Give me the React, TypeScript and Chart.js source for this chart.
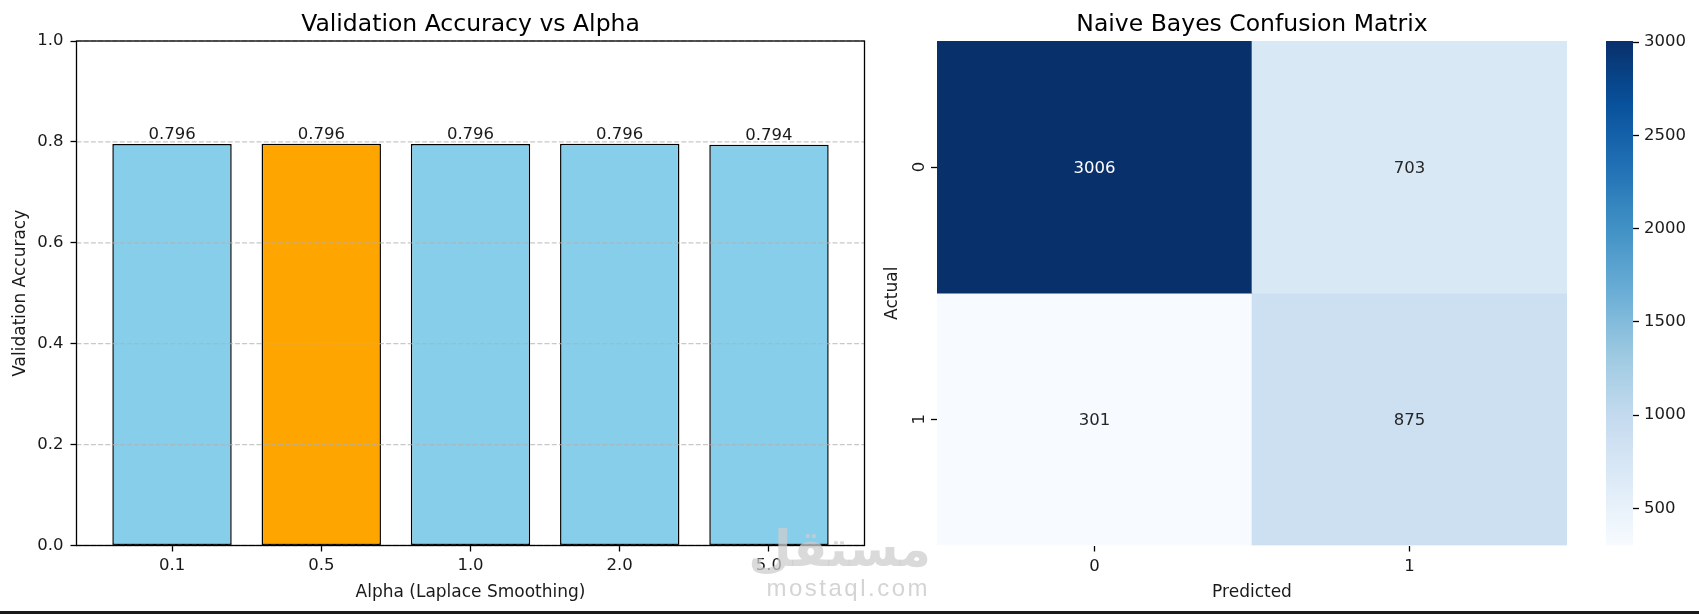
import React, { useEffect, useRef } from 'react';
import { Chart, registerables } from 'chart.js';

Chart.register(...registerables);

const FONT = "'DejaVu Sans', sans-serif";

// ---- Left chart data ----
const alphaLabels = ['0.1', '0.5', '1.0', '2.0', '5.0'];
const accuracies = [0.7956, 0.7963, 0.7957, 0.7962, 0.7944];
const accuracyTicks = [0, 0.2, 0.4, 0.6, 0.8, 1.0];

// ---- Confusion matrix data ----
const predictedLabels = ['0', '1'];
const actualLabels = ['0', '1'];
const confusionActual0 = [3006, 703];
const confusionActual1 = [301, 875];
const colorbarTicks = [500, 1000, 1500, 2000, 2500, 3000];

const confusion = [confusionActual0, confusionActual1];
const allValues = confusion.flat();
const vmin = Math.min(...allValues);
const vmax = Math.max(...allValues);

// matplotlib "Blues" colormap stops
const BLUES = [
  [247, 251, 255], [222, 235, 247], [198, 219, 239], [158, 202, 225], [107, 174, 214],
  [66, 146, 198], [33, 113, 181], [8, 81, 156], [8, 48, 107],
];
function bluesRgb(t: number): number[] {
  const tt = Math.max(0, Math.min(1, t));
  const p = tt * (BLUES.length - 1);
  const i = Math.min(BLUES.length - 2, Math.floor(p));
  const f = p - i;
  return BLUES[i].map((c, k) => Math.round(c + (BLUES[i + 1][k] - c) * f));
}
function bluesCss(t: number): string {
  const [r, g, b] = bluesRgb(t);
  return `rgb(${r},${g},${b})`;
}
function luminance(rgb: number[]): number {
  const lin = rgb.map((c) => {
    const s = c / 255;
    return s <= 0.03928 ? s / 12.92 : Math.pow((s + 0.055) / 1.055, 2.4);
  });
  return 0.2126 * lin[0] + 0.7152 * lin[1] + 0.0722 * lin[2];
}
const norm = (v: number) => (v - vmin) / (vmax - vmin);

const TICK_FONT = { family: FONT, size: 16.5, weight: 'normal' as const };
const LABEL_FONT = { family: FONT, size: 17, weight: 'normal' as const };
const TITLE_FONT = { family: FONT, size: 23.5, weight: 'normal' as const, lineHeight: 1.2 };
const TEXT = '#1a1a1a';

const accuracyOverlay = {
  id: 'accuracyOverlay',
  afterDatasetsDraw(chart: any) {
    const { ctx, chartArea: a, scales } = chart;
    ctx.save();
    // grid above bars (matplotlib default zorder)
    ctx.strokeStyle = 'rgba(176,176,176,0.7)';
    ctx.lineWidth = 1.3;
    ctx.setLineDash([5, 2.2]);
    for (const v of accuracyTicks) {
      const y = scales.y.getPixelForValue(v);
      ctx.beginPath();
      ctx.moveTo(a.left, y);
      ctx.lineTo(a.right, y);
      ctx.stroke();
    }
    ctx.setLineDash([]);
    // value labels
    const meta = chart.getDatasetMeta(0);
    ctx.fillStyle = TEXT;
    ctx.font = `16.5px ${FONT}`;
    ctx.textAlign = 'center';
    ctx.textBaseline = 'alphabetic';
    meta.data.forEach((bar: any, i: number) => {
      ctx.fillText(accuracies[i].toFixed(3), bar.x, bar.y - 5);
    });
    // axes frame
    ctx.strokeStyle = '#000';
    ctx.lineWidth = 1.3;
    ctx.strokeRect(a.left, a.top, a.right - a.left, a.bottom - a.top);
    ctx.restore();
  },
};

function AccuracyChart() {
  const ref = useRef<HTMLCanvasElement>(null);
  useEffect(() => {
    const best = accuracies.indexOf(Math.max(...accuracies));
    const chart = new Chart(ref.current as HTMLCanvasElement, {
      type: 'bar',
      data: {
        datasets: [
          {
            data: accuracies.map((y, i) => ({ x: i, y })),
            backgroundColor: accuracies.map((_, i) => (i === best ? '#ffa500' : '#87ceeb')),
            borderColor: '#000',
            borderWidth: 1.5,
            borderSkipped: false,
            barPercentage: 1,
            categoryPercentage: 0.8,
          } as any,
        ],
      },
      options: {
        responsive: false,
        animation: false,
        devicePixelRatio: 1,
        layout: { padding: { left: 0, right: 15.5, top: 0, bottom: 0 } },
        plugins: {
          legend: { display: false },
          tooltip: { enabled: false },
          title: {
            display: true,
            text: 'Validation Accuracy vs Alpha',
            fullSize: false,
            color: '#000',
            font: TITLE_FONT,
            padding: { top: 10.3, bottom: 2.5 },
          },
        },
        scales: {
          x: {
            type: 'linear',
            min: -0.64,
            max: 4.64,
            offset: false,
            afterFit: (s: any) => { s.height = 68.5; },
            afterBuildTicks: (s: any) => { s.ticks = alphaLabels.map((_, i) => ({ value: i })); },
            ticks: {
              callback: (v: any) => alphaLabels[v] ?? '',
              autoSkip: false,
              maxRotation: 0,
              minRotation: 0,
              padding: 4,
              color: TEXT,
              font: TICK_FONT,
            },
            grid: { drawOnChartArea: false, drawTicks: true, tickLength: 6, tickColor: '#000', tickWidth: 1.3, offset: false },
            border: { display: false },
            title: { display: true, text: 'Alpha (Laplace Smoothing)', color: TEXT, font: LABEL_FONT, padding: { top: 0, bottom: 11.5 } },
          },
          y: {
            type: 'linear',
            min: 0,
            max: 1,
            afterFit: (s: any) => { s.width = 76.5; },
            afterBuildTicks: (s: any) => { s.ticks = accuracyTicks.map((v) => ({ value: v })); },
            ticks: { callback: (v: any) => Number(v).toFixed(1), padding: 7, color: TEXT, font: TICK_FONT },
            grid: { drawOnChartArea: false, drawTicks: true, tickLength: 6, tickColor: '#000', tickWidth: 1.3 },
            border: { display: false },
            title: { display: true, text: 'Validation Accuracy', color: TEXT, font: LABEL_FONT, padding: { top: 10.4, bottom: 0 } },
          },
        },
      } as any,
      plugins: [accuracyOverlay],
    });
    return () => chart.destroy();
  }, []);
  return (
    <canvas
      ref={ref}
      width={880}
      height={614}
      style={{ position: 'absolute', left: 0, top: 0, width: 880, height: 614 }}
    />
  );
}

const heatmapOverlay = {
  id: 'heatmapOverlay',
  afterDatasetsDraw(chart: any) {
    const { ctx, chartArea: a, scales } = chart;
    ctx.save();
    ctx.font = `16.5px ${FONT}`;
    ctx.textAlign = 'center';
    ctx.textBaseline = 'middle';
    confusion.forEach((row, r) => {
      const meta = chart.getDatasetMeta(r);
      row.forEach((v, c) => {
        const el: any = meta.data[c];
        const cx = el.x;
        const cy = (el.y + el.base) / 2;
        const lum = luminance(bluesRgb(norm(v)));
        ctx.fillStyle = lum > 0.408 ? '#262626' : '#ffffff';
        ctx.fillText(String(v), cx, cy + 1.5);
      });
    });
    // rotated y tick labels (seaborn style)
    ctx.fillStyle = TEXT;
    ctx.textBaseline = 'alphabetic';
    actualLabels.forEach((lab, i) => {
      const y = scales.y.getPixelForValue(i + 0.5);
      ctx.save();
      ctx.translate(a.left - 13, y);
      ctx.rotate(-Math.PI / 2);
      ctx.fillText(lab, 0, 0);
      ctx.restore();
    });
    ctx.restore();
  },
};

function HeatmapChart() {
  const ref = useRef<HTMLCanvasElement>(null);
  useEffect(() => {
    const chart = new Chart(ref.current as HTMLCanvasElement, {
      type: 'bar',
      data: {
        labels: predictedLabels,
        datasets: confusion.map((row, r) => ({
          data: row.map(() => [r, r + 1]),
          backgroundColor: row.map((v) => bluesCss(norm(v))),
          borderWidth: 0,
          grouped: false,
          barPercentage: 1,
          categoryPercentage: 1,
        })) as any,
      },
      options: {
        responsive: false,
        animation: false,
        devicePixelRatio: 1,
        layout: { padding: { left: 0, right: 13, top: 0, bottom: 0 } },
        plugins: {
          legend: { display: false },
          tooltip: { enabled: false },
          title: {
            display: true,
            text: 'Naive Bayes Confusion Matrix',
            fullSize: false,
            color: '#000',
            font: TITLE_FONT,
            padding: { top: 10.3, bottom: 2.5 },
          },
        },
        scales: {
          x: {
            type: 'category',
            offset: true,
            afterFit: (s: any) => { s.height = 68.5; },
            ticks: { padding: 5, color: TEXT, font: TICK_FONT, maxRotation: 0, minRotation: 0 },
            grid: { drawOnChartArea: false, drawTicks: true, tickLength: 6, tickColor: '#000', tickWidth: 1.3, offset: false },
            border: { display: false },
            title: { display: true, text: 'Predicted', color: TEXT, font: LABEL_FONT, padding: { top: 0, bottom: 11.5 } },
          },
          y: {
            type: 'linear',
            min: 0,
            max: actualLabels.length,
            reverse: true,
            afterFit: (s: any) => { s.width = 57; },
            afterBuildTicks: (s: any) => { s.ticks = actualLabels.map((_, i) => ({ value: i + 0.5 })); },
            ticks: { display: false },
            grid: { drawOnChartArea: false, drawTicks: true, tickLength: 6, tickColor: '#000', tickWidth: 1.3 },
            border: { display: false },
            title: { display: true, text: 'Actual', color: TEXT, font: LABEL_FONT, padding: { top: 2.6, bottom: 0 } },
          },
        },
      } as any,
      plugins: [heatmapOverlay],
    });
    return () => chart.destroy();
  }, []);
  return (
    <canvas
      ref={ref}
      width={700}
      height={614}
      style={{ position: 'absolute', left: 880, top: 0, width: 700, height: 614 }}
    />
  );
}

function ColorbarChart() {
  const ref = useRef<HTMLCanvasElement>(null);
  useEffect(() => {
    const chart = new Chart(ref.current as HTMLCanvasElement, {
      type: 'bar',
      data: {
        labels: [''],
        datasets: [
          {
            data: [[vmin, vmax]],
            backgroundColor: (ctx: any) => {
              const area = ctx.chart.chartArea;
              if (!area) return bluesCss(0.5);
              const g = ctx.chart.ctx.createLinearGradient(0, area.bottom, 0, area.top);
              for (let k = 0; k <= 32; k++) {
                const t = k / 32;
                g.addColorStop(t, bluesCss(t));
              }
              return g;
            },
            borderWidth: 0,
            barPercentage: 1,
            categoryPercentage: 1,
          } as any,
        ],
      },
      options: {
        responsive: false,
        animation: false,
        devicePixelRatio: 1,
        layout: { padding: { left: 26, right: 0, top: 41, bottom: 68.5 } },
        plugins: { legend: { display: false }, tooltip: { enabled: false } },
        scales: {
          x: { type: 'category', display: false },
          y: {
            type: 'linear',
            position: 'right',
            min: vmin,
            max: vmax,
            afterFit: (s: any) => { s.width = 66; },
            afterBuildTicks: (s: any) => { s.ticks = colorbarTicks.map((v) => ({ value: v })); },
            ticks: { padding: 5, color: TEXT, font: TICK_FONT, callback: (v: any) => String(v) },
            grid: { drawOnChartArea: false, drawTicks: true, tickLength: 6, tickColor: '#000', tickWidth: 1.3 },
            border: { display: false },
          },
        },
      } as any,
    });
    return () => chart.destroy();
  }, []);
  return (
    <canvas
      ref={ref}
      width={119}
      height={614}
      style={{ position: 'absolute', left: 1580, top: 0, width: 119, height: 614 }}
    />
  );
}

export default function App() {
  return (
    <div
      style={{
        position: 'fixed',
        left: 0,
        top: 0,
        width: 1699,
        height: 614,
        background: '#ffffff',
        overflow: 'hidden',
      }}
    >
      <AccuracyChart />
      <HeatmapChart />
      <ColorbarChart />
      <div
        style={{
          position: 'absolute',
          left: 740,
          top: 519,
          width: 191,
          textAlign: 'right',
          fontFamily: FONT,
          fontWeight: 'bold',
          fontSize: 50,
          lineHeight: '60px',
          color: 'rgba(205,205,205,0.75)',
          pointerEvents: 'none',
          direction: 'rtl',
        }}
      >
        مستقل
      </div>
      <div
        style={{
          position: 'absolute',
          left: 730,
          top: 574,
          width: 200,
          textAlign: 'right',
          fontFamily: "'Liberation Sans', sans-serif",
          fontSize: 24,
          letterSpacing: 2.5,
          lineHeight: '28px',
          color: 'rgba(205,205,205,0.85)',
          pointerEvents: 'none',
        }}
      >
        mostaql.com
      </div>
      <div
        style={{ position: 'absolute', left: 0, top: 611, width: 1699, height: 3, background: '#1a1a1a' }}
      />
    </div>
  );
}
